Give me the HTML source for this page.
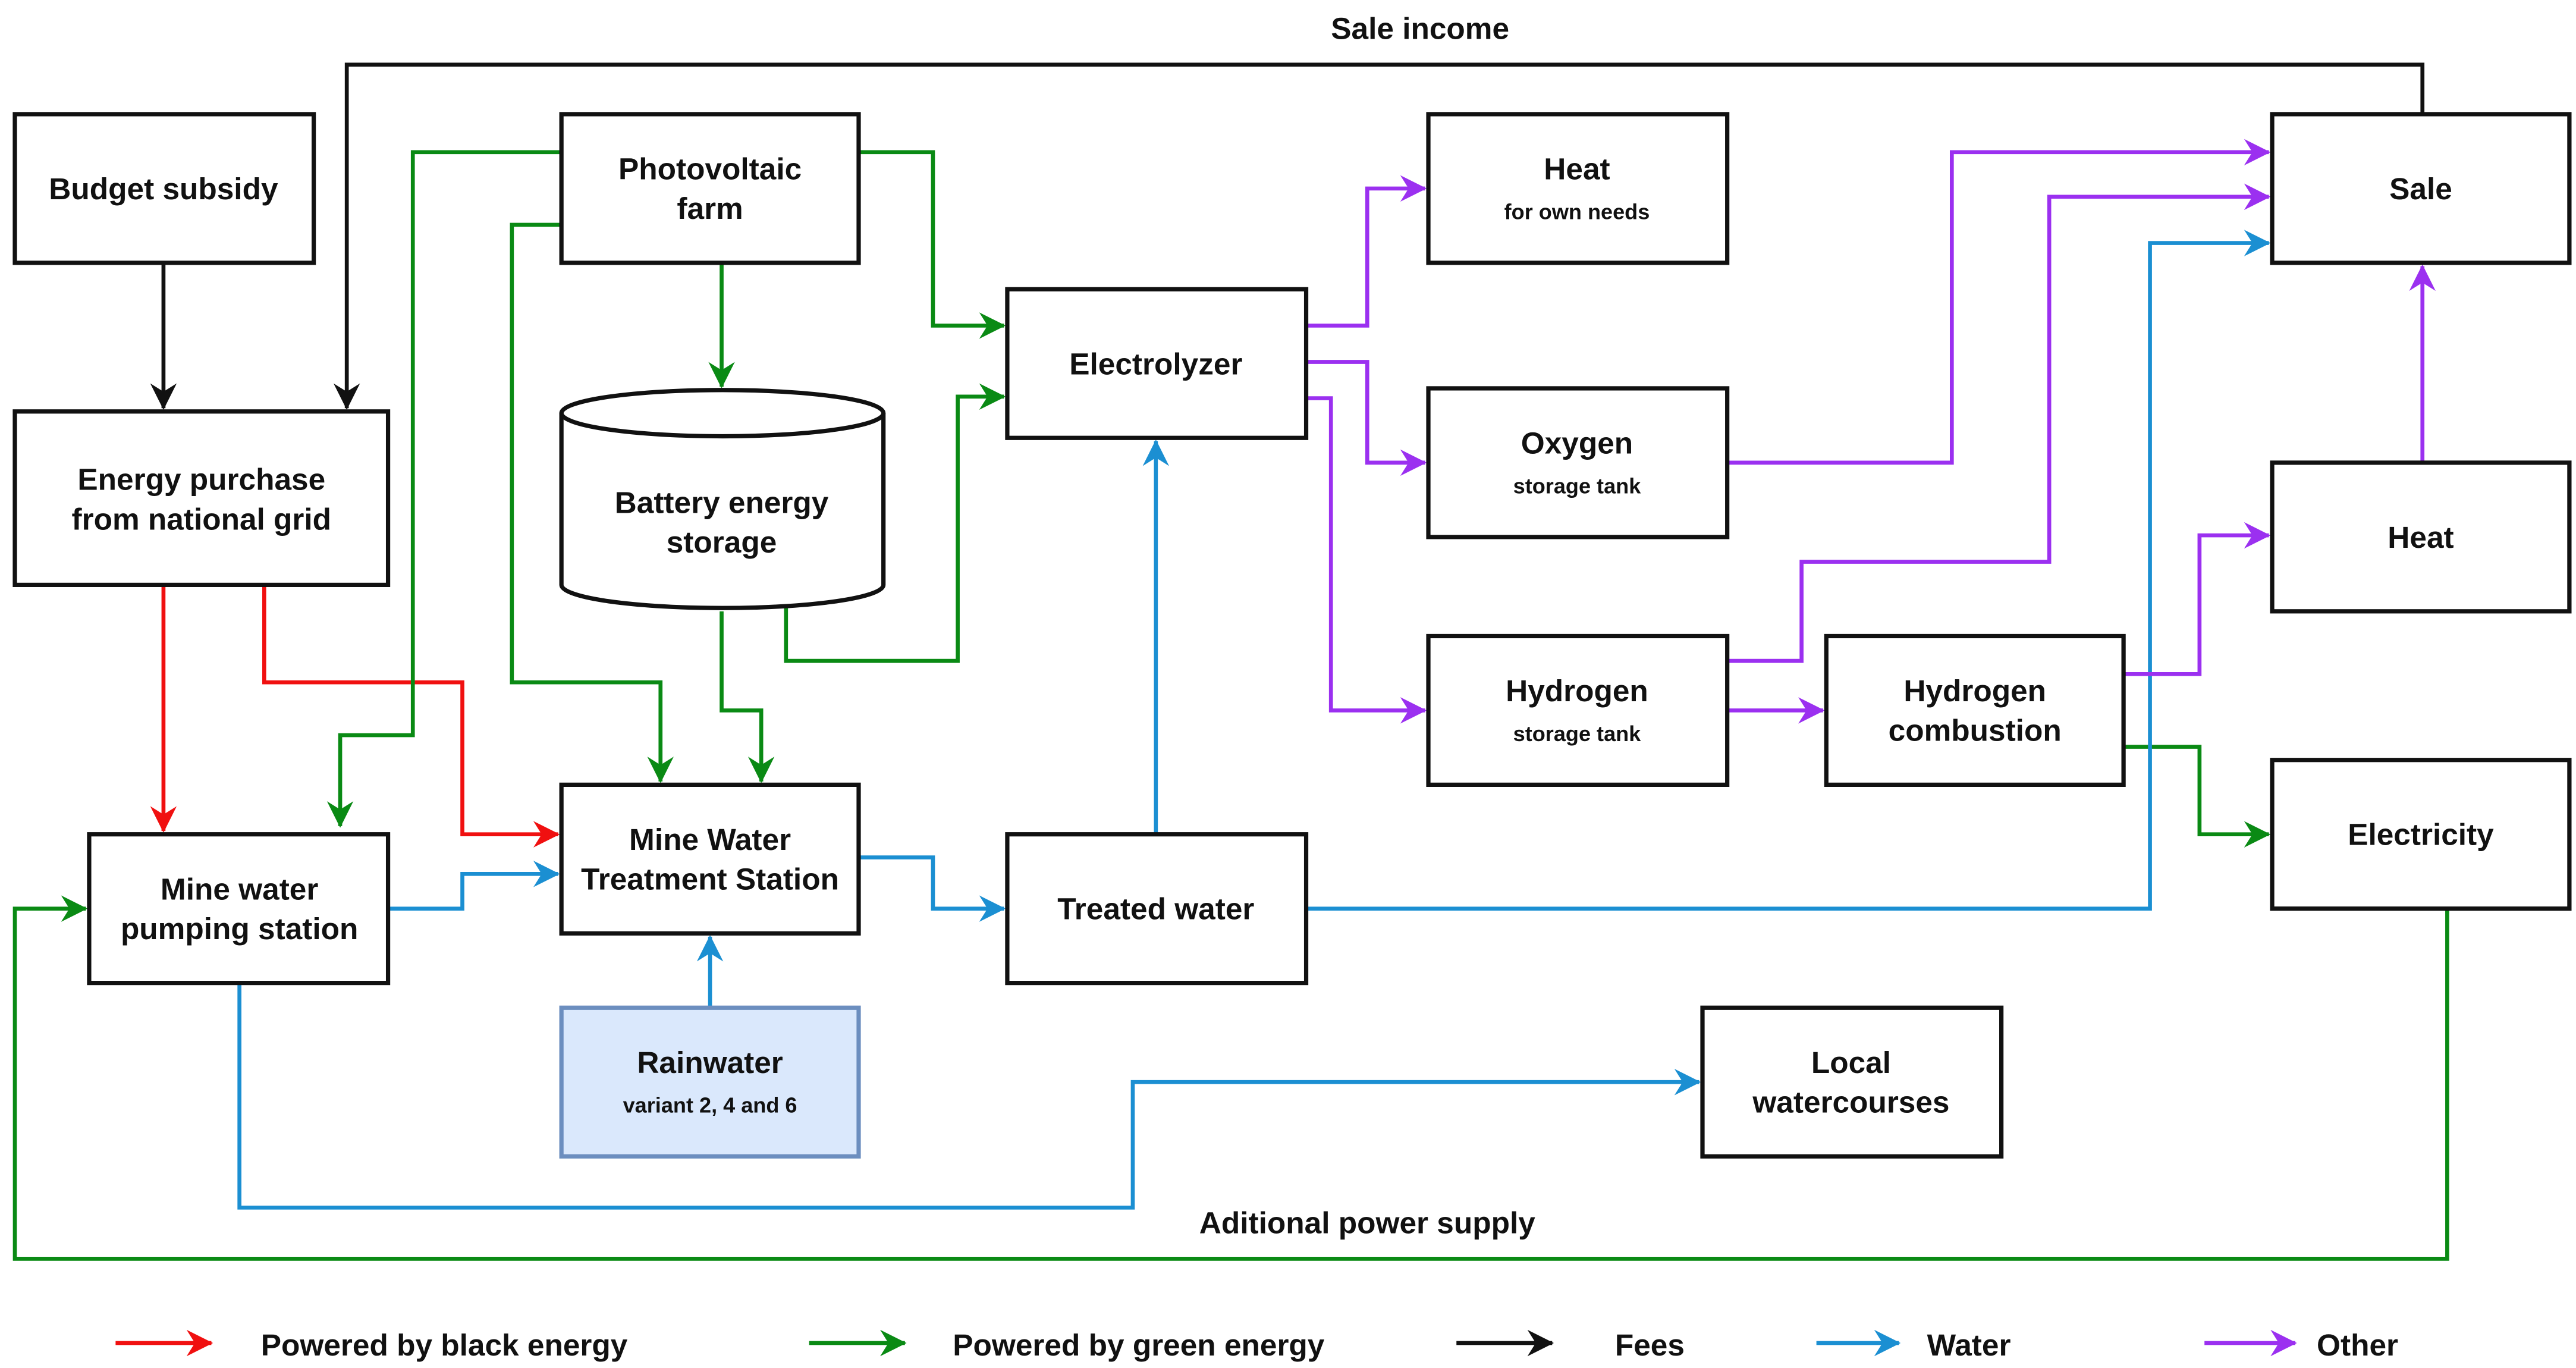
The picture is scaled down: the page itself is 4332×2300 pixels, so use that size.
<!DOCTYPE html>
<html><head><meta charset="utf-8"><style>
html,body{margin:0;padding:0;background:#fff;}
svg{display:block;}
text{font-family:"Liberation Sans",Arial,sans-serif;font-weight:bold;fill:#111;text-anchor:middle;dominant-baseline:central;}
.b{fill:#fff;stroke:#111;stroke-width:2.6;}
.l{fill:none;stroke-width:2.4;}
.k{stroke:#111}.r{stroke:#f01010}.g{stroke:#0a8a14}.u{stroke:#1b8fd2}.p{stroke:#9b30f0}
.m{font-size:18.5px}.s{font-size:13px}
</style></head><body>
<svg width="4332" height="2300" viewBox="0 0 1560 828" xmlns="http://www.w3.org/2000/svg">
<defs>
<marker id="ak" markerUnits="userSpaceOnUse" markerWidth="18" markerHeight="18" refX="15" refY="8" orient="auto"><path d="M0,0 L16,8 L0,16 L5,8 z" fill="#111"/></marker>
<marker id="ar" markerUnits="userSpaceOnUse" markerWidth="18" markerHeight="18" refX="15" refY="8" orient="auto"><path d="M0,0 L16,8 L0,16 L5,8 z" fill="#f01010"/></marker>
<marker id="ag" markerUnits="userSpaceOnUse" markerWidth="18" markerHeight="18" refX="15" refY="8" orient="auto"><path d="M0,0 L16,8 L0,16 L5,8 z" fill="#0a8a14"/></marker>
<marker id="au" markerUnits="userSpaceOnUse" markerWidth="18" markerHeight="18" refX="15" refY="8" orient="auto"><path d="M0,0 L16,8 L0,16 L5,8 z" fill="#1b8fd2"/></marker>
<marker id="ap" markerUnits="userSpaceOnUse" markerWidth="18" markerHeight="18" refX="15" refY="8" orient="auto"><path d="M0,0 L16,8 L0,16 L5,8 z" fill="#9b30f0"/></marker>
</defs>

<path class="l k" d="M99,159 V247" marker-end="url(#ak)"/>
<path class="l k" d="M1467,69 V39 H210 V247" marker-end="url(#ak)"/>
<path class="l r" d="M99,354 V503" marker-end="url(#ar)"/>
<path class="l r" d="M160,354 V413 H280 V505 H338" marker-end="url(#ar)"/>
<path class="l g" d="M340,92 H250 V445 H206 V500" marker-end="url(#ag)"/>
<path class="l g" d="M340,136 H310 V413 H400 V473" marker-end="url(#ag)"/>
<path class="l g" d="M437,159 V234" marker-end="url(#ag)"/>
<path class="l g" d="M437,370 V430 H461 V473" marker-end="url(#ag)"/>
<path class="l g" d="M476,368 V400 H580 V240 H608" marker-end="url(#ag)"/>
<path class="l g" d="M520,92 H565 V197 H608" marker-end="url(#ag)"/>
<path class="l g" d="M1286,452 H1332 V505 H1374" marker-end="url(#ag)"/>
<path class="l g" d="M1482,550 V762 H9 V550 H52" marker-end="url(#ag)"/>
<path class="l u" d="M235,550 H280 V529 H338" marker-end="url(#au)"/>
<path class="l u" d="M520,519 H565 V550 H608" marker-end="url(#au)"/>
<path class="l u" d="M430,610 V567" marker-end="url(#au)"/>
<path class="l u" d="M700,505 V267" marker-end="url(#au)"/>
<path class="l u" d="M791,550 H1302 V147 H1374" marker-end="url(#au)"/>
<path class="l u" d="M145,595 V731 H686 V655 H1029" marker-end="url(#au)"/>
<path class="l p" d="M791,197 H828 V114 H863" marker-end="url(#ap)"/>
<path class="l p" d="M791,219 H828 V280 H863" marker-end="url(#ap)"/>
<path class="l p" d="M791,241 H806 V430 H863" marker-end="url(#ap)"/>
<path class="l p" d="M1046,280 H1182 V92 H1374" marker-end="url(#ap)"/>
<path class="l p" d="M1046,400 H1091 V340 H1241 V119 H1374" marker-end="url(#ap)"/>
<path class="l p" d="M1046,430 H1104" marker-end="url(#ap)"/>
<path class="l p" d="M1286,408 H1332 V324 H1374" marker-end="url(#ap)"/>
<path class="l p" d="M1467,280 V161" marker-end="url(#ap)"/>

<rect class="b" x="9" y="69" width="181" height="90"/>
<rect class="b" x="9" y="249" width="226" height="105"/>
<rect class="b" x="340" y="69" width="180" height="90"/>
<path class="b" d="M340,250 V354 A97.5,14 0 0 0 535,354 V250 A97.5,14 0 0 0 340,250 Z"/>
<path fill="none" stroke="#111" stroke-width="2.6" d="M340,250 A97.5,14 0 0 0 535,250"/>
<rect class="b" x="610" y="175" width="181" height="90"/>
<rect class="b" x="865" y="69" width="181" height="90"/>
<rect class="b" x="865" y="235" width="181" height="90"/>
<rect class="b" x="865" y="385" width="181" height="90"/>
<rect class="b" x="1106" y="385" width="180" height="90"/>
<rect class="b" x="1376" y="69" width="180" height="90"/>
<rect class="b" x="1376" y="280" width="180" height="90"/>
<rect class="b" x="1376" y="460" width="180" height="90"/>
<rect class="b" x="54" y="505" width="181" height="90"/>
<rect class="b" x="340" y="475" width="180" height="90"/>
<rect class="b" x="610" y="505" width="181" height="90"/>
<rect x="340" y="610" width="180" height="90" fill="#dae8fc" stroke="#6c8ebf" stroke-width="2.6"/>
<rect class="b" x="1031" y="610" width="181" height="90"/>

<text class="m" x="99" y="114">Budget subsidy</text>
<text class="m" x="122" y="290">Energy purchase</text>
<text class="m" x="122" y="314">from national grid</text>
<text class="m" x="430" y="102">Photovoltaic</text>
<text class="m" x="430" y="126">farm</text>
<text class="m" x="437" y="304">Battery energy</text>
<text class="m" x="437" y="328">storage</text>
<text class="m" x="700" y="220">Electrolyzer</text>
<text class="m" x="955" y="102">Heat</text>
<text class="s" x="955" y="128">for own needs</text>
<text class="m" x="955" y="268">Oxygen</text>
<text class="s" x="955" y="294">storage tank</text>
<text class="m" x="955" y="418">Hydrogen</text>
<text class="s" x="955" y="444">storage tank</text>
<text class="m" x="1196" y="418">Hydrogen</text>
<text class="m" x="1196" y="442">combustion</text>
<text class="m" x="1466" y="114">Sale</text>
<text class="m" x="1466" y="325">Heat</text>
<text class="m" x="1466" y="505">Electricity</text>
<text class="m" x="145" y="538">Mine water</text>
<text class="m" x="145" y="562">pumping station</text>
<text class="m" x="430" y="508">Mine Water</text>
<text class="m" x="430" y="532">Treatment Station</text>
<text class="m" x="700" y="550">Treated water</text>
<text class="m" x="430" y="643">Rainwater</text>
<text class="s" x="430" y="669">variant 2, 4 and 6</text>
<text class="m" x="1121" y="643">Local</text>
<text class="m" x="1121" y="667">watercourses</text>
<text class="m" x="860" y="17">Sale income</text>
<text class="m" x="828" y="740">Aditional power supply</text>

<path class="l r" d="M70,813 H128" marker-end="url(#ar)"/>
<text class="m" x="158" y="814" style="text-anchor:start">Powered by black energy</text>
<path class="l g" d="M490,813 H548" marker-end="url(#ag)"/>
<text class="m" x="577" y="814" style="text-anchor:start">Powered by green energy</text>
<path class="l k" d="M882,813 H940" marker-end="url(#ak)"/>
<text class="m" x="978" y="814" style="text-anchor:start">Fees</text>
<path class="l u" d="M1100,813 H1150" marker-end="url(#au)"/>
<text class="m" x="1167" y="814" style="text-anchor:start">Water</text>
<path class="l p" d="M1335,813 H1390" marker-end="url(#ap)"/>
<text class="m" x="1403" y="814" style="text-anchor:start">Other</text>
</svg>
</body></html>
